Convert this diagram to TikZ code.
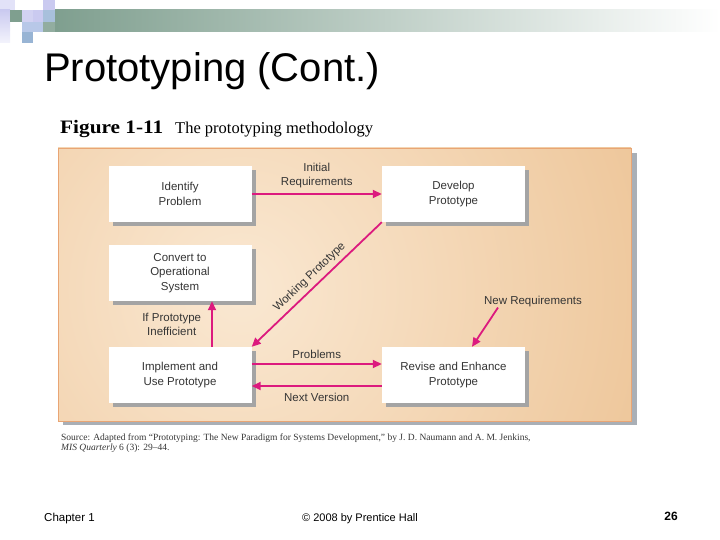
\documentclass[tikz,border=0pt]{standalone}
\usepackage{fontspec}
\setmainfont{Liberation Sans}
\newfontfamily\serifcap{Liberation Serif}
\usetikzlibrary{arrows.meta,shadows}
\definecolor{arr}{HTML}{DC1A7E}
\definecolor{txt}{HTML}{353535}
\definecolor{boxsh}{HTML}{A4A4A4}
\definecolor{panelout}{HTML}{EBBF8E}
\definecolor{panelin}{HTML}{FAE8D2}
\definecolor{panelbd}{HTML}{E9A574}
\definecolor{panelsh}{HTML}{A9AFB6}
\definecolor{barg}{HTML}{7F9F8F}
\definecolor{lavA}{HTML}{E2E2F8}
\definecolor{lavB}{HTML}{CACAF0}
\definecolor{lavC}{HTML}{D2D2F2}
\definecolor{bluA}{HTML}{A8C0DC}
\definecolor{bluB}{HTML}{B8C8E8}
\definecolor{bluC}{HTML}{98B4D4}
\begin{document}
\begin{tikzpicture}[x=1pt,y=-1pt,
  box/.style={fill=white, minimum width=143pt, minimum height=56pt, inner sep=0pt,
    align=center, font=\fontsize{11.5}{14.5}\selectfont, text=txt,
    general shadow={fill=boxsh, shadow xshift=4pt, shadow yshift=-4pt}},
  lab/.style={font=\fontsize{11.5}{14}\selectfont, text=txt, align=center, inner sep=0pt},
  conn/.style={draw=arr, line width=1.8pt, -{Triangle[length=9pt,width=8pt]}},
  connr/.style={draw=arr, line width=1.8pt, {Triangle[length=9pt,width=8pt]}-}]
\useasboundingbox (0,0) rectangle (720,540);
% header decoration
\shade[left color=barg, right color=white] (55,10) rectangle (720,32);
\fill[lavA] (0,0) rectangle (15,10);
\shade[top color=lavB, bottom color=lavA!40] (0,10) rectangle (10,43);
\fill[barg] (10,10) rectangle (22,22);
\fill[lavC] (22,10) rectangle (33,22);
\fill[lavB] (33,10) rectangle (43,22);
\fill[lavB] (43,0) rectangle (55,10);
\fill[bluA] (43,10) rectangle (55,22);
\fill[bluB] (22,22) rectangle (43,32);
\fill[barg!85] (43,22) rectangle (55,32);
\fill[bluC] (22,32) rectangle (33,43);
% title
\node[anchor=base west, inner sep=0pt, font=\fontsize{40}{44}\selectfont] (title) at (44,82) {Prototyping (Cont.)};
% caption
\node[anchor=base west, inner sep=0pt, font=\serifcap\bfseries\fontsize{19}{20}\selectfont] (figt) at (60,134) {\scalebox{1.12}[1]{Figure 1-11}};
\node[anchor=base west, inner sep=0pt, font=\serifcap\fontsize{16.5}{18}\selectfont] (figs) at (175,134) {The prototyping methodology};
% panel
\fill[panelsh] (63,153) rectangle (637,425);
\begin{scope}
  \clip (58,148) rectangle (631,421);
  \fill[panelout] (58,148) rectangle (631,421);
  \shade[inner color=panelin, outer color=panelout] (240,290) circle (520);
\end{scope}
\draw[panelbd, line width=0.8pt] (58,148) rectangle (631,421);
% boxes
\node[box] (idp) at (180,194) {Identify\\Problem};
\node[box] (dev) at (453.5,194) {Develop\\Prototype};
\node[box] (conv) at (180,273) {Convert to\\Operational\\System};
\node[box] (imp) at (180,375) {Implement and\\Use Prototype};
\node[box] (rev) at (453.5,375) {Revise and Enhance\\Prototype};
% connectors
\draw[conn] (idp.east) -- node[lab, above=5pt] {Initial\\Requirements} (dev.west);
\draw[connr] (imp.north east) -- node[lab, sloped, above=4pt] {Working Prototype} (dev.south west);
\draw[conn] ([xshift=32pt]imp.north) -- node[lab, left=10pt] {If Prototype\\Inefficient} ([xshift=32pt]conv.south);
\draw[conn] ([yshift=11pt]imp.east) -- node[lab, above=4pt] {Problems} ([yshift=11pt]rev.west);
\draw[conn] ([yshift=-11pt]rev.west) -- node[lab, below=6pt] {Next Version} ([yshift=-11pt]imp.east);
\node[lab] (nr) at (533,302) {New Requirements};
\draw[conn] ([xshift=-35pt]nr.south) -- ([xshift=18.5pt]rev.north);
% source
\node[anchor=base west, inner sep=0pt, align=left, text=txt, font=\serifcap\fontsize{9.5}{10}\selectfont] (src) at (61,450)
  {Source: Adapted from “Prototyping: The New Paradigm for Systems Development,” by J. D. Naumann and A. M. Jenkins,\\\textit{MIS Quarterly} 6 (3): 29–44.};
% footer
\node[anchor=base west, inner sep=0pt, font=\fontsize{11.5}{13}\selectfont] (ch) at (44,521) {Chapter 1};
\node[anchor=base, inner sep=0pt, font=\fontsize{11}{13}\selectfont] (cp) at (360,521) {© 2008 by Prentice Hall};
\node[anchor=base east, inner sep=0pt, font=\bfseries\fontsize{12}{14}\selectfont] (pg) at (678,520) {26};
\end{tikzpicture}
\end{document}
